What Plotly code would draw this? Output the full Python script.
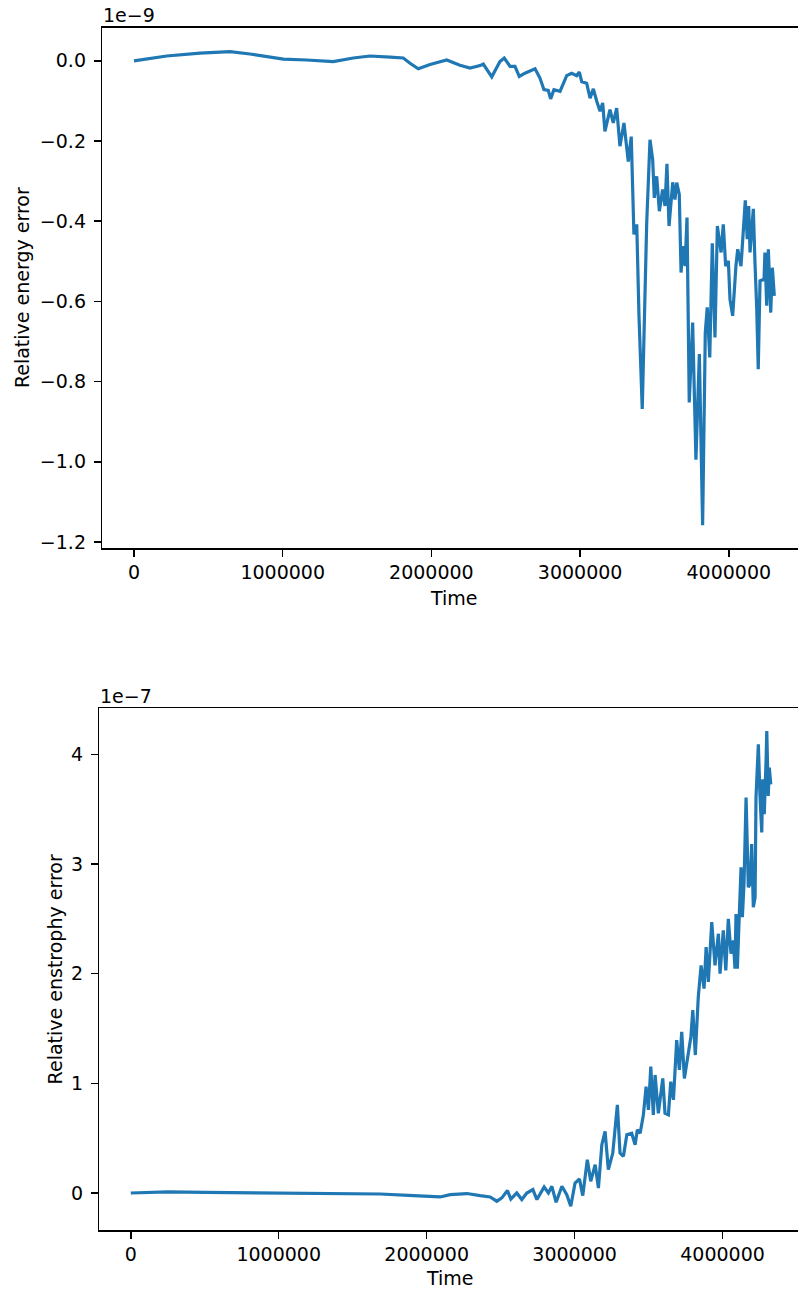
import plotly.graph_objects as go

# ---------------- data ----------------
# Top panel: relative energy error (values in units of 1e-9)
energy_time = [0, 220000, 444000, 646000, 780000, 1004000, 1161000, 1340000, 1475000, 1587000,
               1722000, 1811000, 1856000, 1912000, 1991000, 2103000, 2192000, 2260000, 2327000, 2349000,
               2406000, 2461000, 2490000, 2529000, 2562000, 2591000, 2629000, 2697000, 2730000, 2757000,
               2786000, 2802000, 2824000, 2865000, 2910000, 2943000, 2977000, 2995000, 3011000, 3044000,
               3067000, 3089000, 3112000, 3134000, 3152000, 3167000, 3201000, 3223000, 3246000, 3268000,
               3295000, 3324000, 3344000, 3362000, 3381000, 3396000, 3418000, 3436000, 3448000, 3470000,
               3488000, 3499000, 3515000, 3533000, 3555000, 3571000, 3584000, 3598000, 3623000, 3638000,
               3650000, 3667000, 3679000, 3690000, 3706000, 3719000, 3734000, 3757000, 3768000, 3779000,
               3802000, 3824000, 3842000, 3855000, 3872000, 3889000, 3907000, 3923000, 3948000, 3963000,
               3979000, 3997000, 4008000, 4026000, 4048000, 4060000, 4082000, 4094000, 4111000, 4124000,
               4134000, 4143000, 4165000, 4176000, 4188000, 4198000, 4210000, 4237000, 4243000, 4255000,
               4266000, 4282000, 4293000, 4306000]
energy_err_1e9 = [0.000, 0.012, 0.019, 0.023, 0.017, 0.004, 0.002, -0.002, 0.007, 0.012,
                  0.009, 0.007, -0.006, -0.020, -0.009, 0.002, -0.011, -0.018, -0.012, -0.008,
                  -0.040, -0.002, 0.007, -0.014, -0.014, -0.039, -0.031, -0.020, -0.043, -0.072,
                  -0.074, -0.095, -0.072, -0.076, -0.037, -0.031, -0.037, -0.028, -0.052, -0.056,
                  -0.093, -0.070, -0.101, -0.126, -0.105, -0.176, -0.122, -0.155, -0.118, -0.213,
                  -0.155, -0.251, -0.189, -0.433, -0.408, -0.636, -0.868, -0.595, -0.404, -0.197,
                  -0.246, -0.342, -0.288, -0.375, -0.321, -0.362, -0.257, -0.412, -0.303, -0.346,
                  -0.304, -0.333, -0.528, -0.462, -0.512, -0.391, -0.852, -0.653, -0.827, -0.995,
                  -0.731, -1.158, -0.677, -0.615, -0.740, -0.455, -0.690, -0.412, -0.478, -0.408,
                  -0.512, -0.499, -0.595, -0.636, -0.512, -0.470, -0.512, -0.445, -0.348, -0.445,
                  -0.362, -0.478, -0.369, -0.503, -0.619, -0.769, -0.549, -0.545, -0.478, -0.611,
                  -0.470, -0.628, -0.516, -0.586]

# Bottom panel: relative enstrophy error (values in units of 1e-7)
enstrophy_time = [0, 250000, 500000, 1000000, 1500000, 1686000, 1911000, 2091000, 2159000, 2272000,
                  2361000, 2429000, 2474000, 2508000, 2546000, 2569000, 2609000, 2643000, 2677000, 2718000,
                  2745000, 2794000, 2823000, 2846000, 2875000, 2914000, 2947000, 2974000, 3003000, 3033000,
                  3055000, 3086000, 3109000, 3139000, 3161000, 3184000, 3206000, 3228000, 3258000, 3289000,
                  3307000, 3330000, 3353000, 3386000, 3409000, 3424000, 3443000, 3465000, 3483000, 3499000,
                  3515000, 3532000, 3544000, 3566000, 3596000, 3611000, 3634000, 3650000, 3668000, 3690000,
                  3708000, 3724000, 3742000, 3769000, 3786000, 3799000, 3816000, 3836000, 3855000, 3875000,
                  3889000, 3904000, 3927000, 3949000, 3972000, 3983000, 4005000, 4022000, 4039000, 4057000,
                  4073000, 4084000, 4091000, 4100000, 4111000, 4125000, 4134000, 4145000, 4159000, 4174000,
                  4186000, 4197000, 4208000, 4220000, 4226000, 4235000, 4242000, 4253000, 4265000, 4272000,
                  4282000, 4294000, 4299000, 4309000, 4316000, 4326000]
enstrophy_err_1e7 = [0.000, 0.010, 0.006, 0.000, -0.003, -0.009, -0.024, -0.036, -0.015, -0.005,
                     -0.024, -0.036, -0.075, -0.045, 0.022, -0.055, 0.000, -0.060, 0.000, 0.031,
                     -0.060, 0.055, 0.000, 0.061, -0.085, 0.061, -0.015, -0.121, 0.091, 0.127,
                     -0.024, 0.304, 0.106, 0.258, 0.045, 0.440, 0.561, 0.213, 0.364, 0.804,
                     0.364, 0.334, 0.531, 0.545, 0.440, 0.576, 0.545, 0.713, 0.970, 0.758,
                     1.152, 0.713, 1.076, 0.727, 1.045, 0.727, 0.713, 1.015, 0.849, 1.394,
                     1.122, 1.470, 1.045, 1.273, 1.425, 1.667, 1.258, 1.788, 2.076, 1.864,
                     2.243, 1.925, 2.470, 2.076, 2.364, 2.000, 2.394, 2.030, 2.500, 2.182,
                     2.303, 2.045, 2.545, 2.045, 2.470, 2.970, 2.515, 2.818, 3.606, 2.788,
                     2.818, 3.182, 2.606, 2.697, 3.606, 3.848, 4.091, 3.621, 3.288, 3.773,
                     3.455, 3.940, 4.212, 3.621, 3.879, 3.727]

x_tick_vals = [0, 1000000, 2000000, 3000000, 4000000]
x_tick_text = ["0", "1000000", "2000000", "3000000", "4000000"]
energy_tick_vals = [0.0, -0.2, -0.4, -0.6, -0.8, -1.0, -1.2]
energy_tick_text = ["0.0", "\u22120.2", "\u22120.4", "\u22120.6", "\u22120.8", "\u22121.0", "\u22121.2"]
enstrophy_tick_vals = [0, 1, 2, 3, 4]
enstrophy_tick_text = ["0", "1", "2", "3", "4"]

# ---------------- figure ----------------
W, H = 798, 1297
FONT = "DejaVu Sans"
FS = 19
LINE_COLOR = "#1f77b4"


def px_x(p):
    return p / W


def px_y(p):
    return 1 - p / H


fig = go.Figure()
fig.add_trace(go.Scatter(x=energy_time, y=energy_err_1e9, mode="lines",
                         line=dict(color=LINE_COLOR, width=3.2), xaxis="x", yaxis="y",
                         showlegend=False, hoverinfo="skip"))
fig.add_trace(go.Scatter(x=enstrophy_time, y=enstrophy_err_1e7, mode="lines",
                         line=dict(color=LINE_COLOR, width=3.2), xaxis="x2", yaxis="y2",
                         showlegend=False, hoverinfo="skip"))

axis_common = dict(showgrid=False, zeroline=False, showline=True, linecolor="black",
                   linewidth=1.5, ticks="outside", ticklen=6.7, tickwidth=1.5,
                   tickcolor="black", tickfont=dict(family=FONT, size=FS, color="black"))

fig.update_layout(
    width=W, height=H,
    margin=dict(l=0, r=0, t=0, b=0),
    paper_bgcolor="white", plot_bgcolor="white",
    font=dict(family=FONT, size=FS, color="black"),
    xaxis=dict(domain=[px_x(102), 1.0], anchor="y", range=[-215200, 4465400],
               tickmode="array", tickvals=x_tick_vals, ticktext=x_tick_text,
               mirror=True, ticklabelstandoff=0, **axis_common),
    yaxis=dict(domain=[px_y(550), px_y(28)], anchor="x", range=[-1.2157, 0.082],
               tickmode="array", tickvals=energy_tick_vals, ticktext=energy_tick_text,
               ticklabelstandoff=4, **axis_common),
    xaxis2=dict(domain=[px_x(99), 1.0], anchor="y2", range=[-214900, 4510000],
                tickmode="array", tickvals=x_tick_vals, ticktext=x_tick_text,
                mirror=True, ticklabelstandoff=0, **axis_common),
    yaxis2=dict(domain=[px_y(1234.3), px_y(710.5)], anchor="x2", range=[-0.342, 4.42],
                tickmode="array", tickvals=enstrophy_tick_vals, ticktext=enstrophy_tick_text,
                ticklabelstandoff=4, **axis_common),
)

ann_font = dict(family=FONT, size=FS, color="black")
annotations = [
    dict(text="Relative energy error", x=px_x(22), y=px_y(289), textangle=-90),
    dict(text="Time", x=px_x(453.5), y=px_y(600)),
    dict(text="1e\u22129", x=px_x(101), y=px_y(15), xanchor="left"),
    dict(text="Relative enstrophy error", x=px_x(55), y=px_y(972.4), textangle=-90),
    dict(text="Time", x=px_x(450), y=px_y(1282)),
    dict(text="1e\u22127", x=px_x(98), y=px_y(698.5), xanchor="left"),
]
for a in annotations:
    a.setdefault("xanchor", "center")
    a.setdefault("yanchor", "middle")
    fig.add_annotation(xref="paper", yref="paper", showarrow=False, font=ann_font, **a)

fig.write_html(
    "out.html",
    config={"displayModeBar": False, "staticPlot": True},
    post_script="document.body.style.margin='0';document.body.style.padding='0';"
                "document.documentElement.style.overflow='hidden';"
                "document.body.style.overflow='hidden';",
)
